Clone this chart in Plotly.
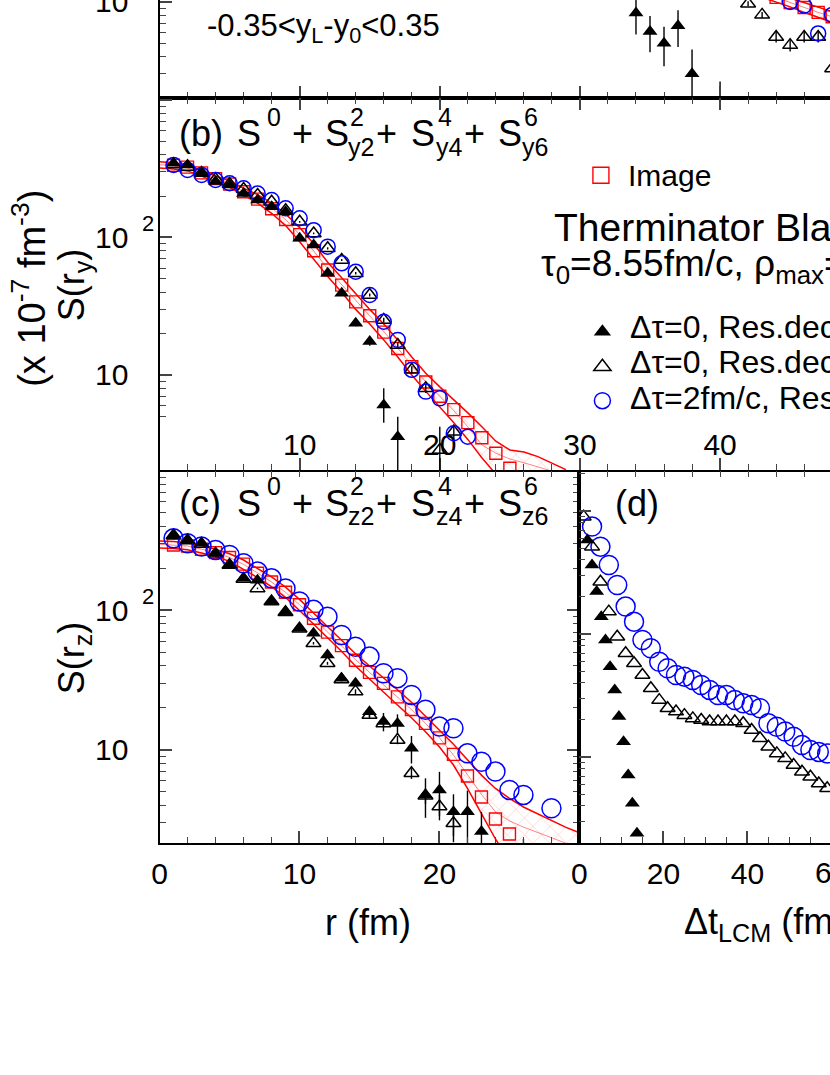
import math
import plotly.graph_objects as go

W, H = 830, 1075
def X(px): return px / W
def Y(py): return 1 - py / H

FONT = "Liberation Sans, Arial, Helvetica, sans-serif"
RED, BLUE, BLACK = "#ff0000", "#0000ff", "#000000"

# ---------------- data ----------------
# panel (a): upper panel, only its lower strip is visible
a_r_filled = [34, 35, 36, 37, 38, 39, 40]
a_filled = [8.3, 6.1, 5.0, 6.7, 3.0, 1.0, 1.2]
a_filled_ep = [2.5, 1.8, 1.6, 2.0, 1.5, 1.07, 1.44]
a_filled_em = [2.5, 1.8, 1.6, 2.0, 1.5, 0.5, 0.5]
a_r_open = [42, 43, 44, 45, 46, 47, 48]
a_open = [9.7, 8.05, 5.56, 4.85, 5.56, 5.56, 3.28]
a_open_err = [0.4, 0.4, 0.5, 0.5, 0.5, 0.5, 0.6]
a_r_circ = [45, 46, 47, 48]
a_circ = [10.0, 9.4, 5.9, 8.05]
a_r_img = [44, 45, 46, 47, 48]
a_img = [10.8, 9.9, 9.1, 8.4, 7.8]
a_band_r = [43, 44, 45, 46, 47, 48]
a_band_up = [12.4, 11.5, 10.6, 9.8, 9.1, 8.5]
a_band_lo = [10.8, 10.0, 9.2, 8.4, 7.7, 7.1]
a_band_mid = [11.6, 10.8, 9.9, 9.1, 8.4, 7.8]

# panel (b): S(r_y)
b_r_circ = list(range(1, 23))
b_circ = [337, 310, 285, 262, 248, 228, 209, 187, 163, 138, 113, 85.8, 64.9, 56.4,
          38.2, 24.4, 18.0, 10.9, 7.57, 6.76, 3.77, 3.56]
b_r_open = list(range(1, 22))
b_open = [340, 325, 295, 265, 245, 225, 204, 182, 158, 130, 107, 83.4, 68.6, 54.9,
          38.2, 25.1, 16.5, 10.9, 8.0, 2.85, 3.87]
b_open_err = [3, 3, 3, 3, 3, 3, 2, 2, 2, 2, 1.5, 1.5, 1.2, 1.2, 1.0, 1.0, 0.8, 0.7, 0.6, 1.35, 0.5]
b_r_filled = list(range(1, 18))
b_filled = [346, 337, 293, 255, 241, 209, 187, 167, 154, 98.6, 88.2, 54.9, 39.3, 23.8,
            17.5, 6.05, 3.56]
b_filled_ep = [4, 4, 4, 3, 3, 3, 3, 3, 3, 2, 2, 1.5, 1.5, 1.2, 1.2, 1.95, 1.4]
b_filled_em = [4, 4, 4, 3, 3, 3, 3, 3, 3, 2, 2, 1.5, 1.5, 1.2, 1.2, 1.55, 1.6]
b_r_img = list(range(1, 26))
b_img = [335, 325, 295, 268, 245, 215, 190, 162, 135, 105, 80, 58, 45, 34, 27, 20.5,
         15.6, 11.5, 8.9, 7.0, 5.6, 4.5, 3.5, 2.7, 2.1]
b_band_r = list(range(0, 30))
b_band_up = [355, 350, 335, 305, 280, 258, 228, 205, 178, 148, 118, 90, 66, 51, 39, 30,
             23.5, 18, 13.5, 10.3, 8.2, 6.6, 5.3, 4.2, 3.3, 2.85, 2.75, 2.55, 2.3, 2.05]
b_band_lo = [320, 315, 305, 280, 255, 232, 202, 178, 150, 122, 93, 70, 52, 40, 30, 23.5,
             18, 13.5, 10, 7.6, 5.9, 4.5, 3.4, 2.5, 1.9, 1.5, 1.2, 1.0, 0.9, 0.8]
b_band_mid = [338, 333, 320, 292, 268, 245, 215, 191, 164, 135, 105, 80, 59, 45.5, 34.5,
              26.8, 20.7, 15.7, 11.7, 8.9, 7.0, 5.5, 4.2, 3.1, 2.7, 2.45, 2.3, 2.15, 2.0, 1.85]

# panel (c): S(r_z)
c_r_circ = list(range(1, 27)) + [28]
c_circ = [329, 303, 287, 271, 250, 218, 190, 170, 144, 116, 101, 90.3, 66.7, 55.0, 46.7,
          35.5, 32.7, 24.8, 19.4, 14.7, 14.3, 9.46, 8.24, 7.0, 5.17, 4.76, 3.82]
c_r_open = list(range(1, 22))
c_open = [345, 318, 300, 255, 212, 168, 144, 116, 97, 74, 58.2, 41.8, 32, 26.2, 17.8,
          15.5, 11.8, 6.8, 4.7, 3.93, 2.98]
c_open_err = [3, 3, 3, 3, 2, 2, 2, 2, 1.5, 1.2, 1.2, 1, 1, 1, 1, 1, 0.8, 0.6, 0.6, 0.8, 0.8]
c_r_filled = list(range(1, 24)) + [26]
c_filled = [348, 320, 303, 257, 212, 170, 165, 116, 98, 74.5, 68.6, 48, 32.7, 30.1, 18.8,
            16.0, 15.5, 10.3, 4.76, 5.17, 3.61, 3.61, 2.6, 1.4]
c_filled_ep = [3, 3, 3, 3, 2, 2, 2, 2, 1.5, 1.2, 1.2, 1, 1, 1, 1.5, 2.4, 2.5, 2.3, 1.5,
               1.8, 1.2, 1.5, 1.0, 0.9]
c_filled_em = [3, 3, 3, 3, 2, 2, 2, 2, 1.5, 1.2, 1.2, 1, 1, 1, 1.5, 2.4, 2.5, 2.3, 1.5,
               1.8, 1.2, 1.5, 1.0, 0.5]
c_r_img = list(range(1, 26))
c_img = [295, 290, 275, 260, 240, 215, 185, 160, 135, 110, 88, 70, 56, 44, 36, 30, 24,
         19.5, 15.5, 12.2, 9.3, 6.5, 4.6, 3.2, 2.5]
c_band_r = list(range(0, 31))
c_band_up = [315, 312, 305, 292, 275, 255, 230, 200, 174, 147, 120, 96, 77, 61, 49, 40,
             33, 27, 22, 17.5, 14, 11, 8.5, 6.6, 5.3, 4.5, 3.9, 3.5, 3.1, 2.8, 2.55]
c_band_lo = [280, 278, 272, 258, 245, 225, 198, 172, 148, 124, 100, 80, 64, 51, 40, 32,
             26, 21, 17, 13.5, 10.5, 7.8, 5.3, 3.5, 2.3, 1.6, 1.2, 0.95, 0.8, 0.7, 0.6]
c_band_mid = [298, 295, 290, 275, 260, 240, 214, 186, 160, 135, 110, 88, 70, 56, 44.5, 36,
              29.5, 24, 19.5, 15.5, 12.2, 9.2, 6.6, 4.8, 3.6, 3.1, 2.8, 2.55, 2.35, 2.15, 1.95]

# panel (d): distribution in Delta t_LCM
d_t_open = list(range(1, 60, 2))
d_open = [8.99, 5.13, 2.66, 1.52, 0.95, 0.697, 0.578, 0.464, 0.362, 0.29, 0.249, 0.234,
          0.219, 0.206, 0.2, 0.194, 0.194, 0.194, 0.194, 0.188, 0.166, 0.142, 0.121,
          0.107, 0.0975, 0.086, 0.076, 0.069, 0.061, 0.0557]
d_t_circ = list(range(3, 60, 2))
d_circ = [7.46, 5.13, 3.64, 2.5, 1.67, 1.26, 0.894, 0.765, 0.595, 0.526, 0.464, 0.45,
          0.423, 0.385, 0.351, 0.319, 0.319, 0.29, 0.273, 0.265, 0.249, 0.188, 0.176,
          0.161, 0.146, 0.125, 0.114, 0.110, 0.107]
d_t_filled = [1.9, 3.0, 4.1, 5.2, 6.2, 7.3, 8.4, 9.4, 10.5, 11.6, 12.6, 13.7]
d_filled = [5.81, 3.64, 2.21, 1.38, 0.894, 0.542, 0.351, 0.213, 0.133, 0.0714, 0.042, 0.024]

minor_vals = [m * 10 ** e for e in range(-3, 4) for m in range(2, 10)]

# ---------------- figure ----------------
fig = go.Figure()

def band(xa, ya, r, lo, up, mid):
    fig.add_trace(go.Scatter(x=r, y=lo, mode="lines", line=dict(color=RED, width=1.5),
                             xaxis=xa, yaxis=ya, showlegend=False, hoverinfo="skip"))
    fig.add_trace(go.Scatter(x=r, y=up, mode="lines", line=dict(color=RED, width=1.5),
                             fill="tonexty", fillcolor="rgba(0,0,0,0)",
                             fillpattern=dict(shape="x", fgcolor="rgba(255,0,0,0.7)",
                                              bgcolor="rgba(0,0,0,0)", size=12, solidity=0.07),
                             xaxis=xa, yaxis=ya, showlegend=False, hoverinfo="skip"))
    fig.add_trace(go.Scatter(x=r, y=mid, mode="lines",
                             line=dict(color="rgba(255,0,0,0.6)", width=0.8),
                             xaxis=xa, yaxis=ya, showlegend=False, hoverinfo="skip"))

def errs(ep, em):
    if ep is None:
        return None
    return dict(type="data", array=ep, arrayminus=em if em is not None else ep,
                color=BLACK, thickness=1.4, width=0)

def squares(xa, ya, r, v):
    fig.add_trace(go.Scatter(x=r, y=v, mode="markers", showlegend=False,
                             marker=dict(symbol="square-open", size=12, color=RED,
                                         line=dict(color=RED, width=1.4)),
                             xaxis=xa, yaxis=ya))

def opens(xa, ya, r, v, ep=None, em=None, size=13):
    fig.add_trace(go.Scatter(x=r, y=v, mode="markers", showlegend=False,
                             marker=dict(symbol="triangle-up-open", size=size, color=BLACK,
                                         line=dict(color=BLACK, width=1.5)),
                             error_y=errs(ep, em), xaxis=xa, yaxis=ya))

def filled(xa, ya, r, v, ep=None, em=None, size=13):
    fig.add_trace(go.Scatter(x=r, y=v, mode="markers", showlegend=False,
                             marker=dict(symbol="triangle-up", size=size, color=BLACK),
                             error_y=errs(ep, em), xaxis=xa, yaxis=ya))

def circles(xa, ya, r, v, size=15):
    fig.add_trace(go.Scatter(x=r, y=v, mode="markers", showlegend=False,
                             marker=dict(symbol="circle-open", size=size, color=BLUE,
                                         line=dict(color=BLUE, width=1.5)),
                             xaxis=xa, yaxis=ya))

# panel a
band("x", "y", a_band_r, a_band_lo, a_band_up, a_band_mid)
squares("x", "y", a_r_img, a_img)
opens("x", "y", a_r_open, a_open, a_open_err)
circles("x", "y", a_r_circ, a_circ, size=15)
filled("x", "y", a_r_filled, a_filled, a_filled_ep, a_filled_em)
# panel b
band("x2", "y2", b_band_r, b_band_lo, b_band_up, b_band_mid)
squares("x2", "y2", b_r_img, b_img)
opens("x2", "y2", b_r_open, b_open, b_open_err)
circles("x2", "y2", b_r_circ, b_circ, size=15)
filled("x2", "y2", b_r_filled, b_filled, b_filled_ep, b_filled_em)
# panel c
band("x3", "y3", c_band_r, c_band_lo, c_band_up, c_band_mid)
squares("x3", "y3", c_r_img, c_img)
opens("x3", "y3", c_r_open, c_open, c_open_err)
circles("x3", "y3", c_r_circ, c_circ, size=19)
filled("x3", "y3", c_r_filled, c_filled, c_filled_ep, c_filled_em)
# panel d
opens("x4", "y4", d_t_open, d_open, size=13)
circles("x4", "y4", d_t_circ, d_circ, size=19)
filled("x4", "y4", d_t_filled, d_filled, size=13)
# helper axis carrying the downward ticks under panel (b)
fig.add_trace(go.Scatter(x=[None], y=[None], xaxis="x5", yaxis="y2", showlegend=False))

# legend swatches (one legend per entry, so each can be placed like the original)
legend_items = [
    ("legend", dict(symbol="square-open", size=16, color=RED, line=dict(color=RED, width=1.4))),
    ("legend2", dict(symbol="triangle-up", size=15, color=BLACK)),
    ("legend3", dict(symbol="triangle-up-open", size=15, color=BLACK,
                     line=dict(color=BLACK, width=1.5))),
    ("legend4", dict(symbol="circle-open", size=17, color=BLUE, line=dict(color=BLUE, width=1.5))),
]
for lg, mk in legend_items:
    fig.add_trace(go.Scatter(x=[None], y=[None], mode="markers", marker=mk, name=" ",
                             legend=lg, showlegend=True, xaxis="x2", yaxis="y2"))

def log_y(dom, rng, tickvals, mirror=False):
    return dict(type="log", domain=dom, range=rng, tickvals=tickvals, ticks="inside",
                ticklen=12, tickwidth=1.5, showticklabels=False, showline=True,
                linewidth=2, linecolor=BLACK, mirror=mirror, showgrid=False,
                zeroline=False,
                minor=dict(tickvals=minor_vals, ticks="inside", ticklen=6, tickwidth=1.2,
                           showgrid=False))

def lin_x(dom, rng, dtick, mdtick, anchor, labels=False, mirror=False, **kw):
    d = dict(domain=dom, range=rng, anchor=anchor, dtick=dtick, tick0=0, ticks="inside",
             ticklen=12, tickwidth=1.5, showticklabels=labels, showline=True, linewidth=2,
             linecolor=BLACK, mirror=mirror, showgrid=False, zeroline=False,
             tickfont=dict(size=30, family=FONT, color=BLACK),
             minor=dict(dtick=mdtick, ticks="inside", ticklen=6, tickwidth=1.2,
                        showgrid=False))
    d.update(kw)
    return d

def leg(xc, yc):
    return dict(x=X(xc - 13), y=Y(yc - 16), xanchor="left", yanchor="top", borderwidth=0,
                bgcolor="rgba(0,0,0,0)", font=dict(size=28), itemwidth=30)

RB = (830 - 153) / 14.15
fig.update_layout(
    width=W, height=H, margin=dict(l=0, r=0, t=0, b=0),
    paper_bgcolor="white", plot_bgcolor="white",
    font=dict(family=FONT, color=BLACK),
    xaxis=lin_x([X(153), 1], [0, RB], 10, 2, "y"),
    yaxis=dict(log_y([Y(98), 1], [math.log10(2), 1.014], [10, 100]), anchor="x"),
    xaxis2=lin_x([X(153), 1], [0, RB], None, 2, "y2", labels=True, mirror="ticks",
                 tickvals=[10, 20, 30, 40], ticklabelposition="inside", layer="below traces"),
    yaxis2=dict(log_y([Y(470), Y(98)], [0.309, 3.0145], [10, 100, 1000]), anchor="x2"),
    xaxis3=lin_x([X(153), X(577)], [0, 30], None, 2, "y3", labels=True,
                 tickvals=[0, 10, 20], ticklabelstandoff=3),
    yaxis3=dict(log_y([Y(843), Y(470)], [0.333, 3.007], [10, 100, 1000], mirror="ticks"),
                anchor="x3"),
    xaxis4=lin_x([X(577), 1], [0, (830 - 577) / 4.24], 20, 5, "y4", labels=True,
                 ticklabelstandoff=3),
    yaxis4=dict(log_y([Y(843), Y(470)], [-1.699, 1.333], [0.1, 1, 10]), anchor="x4"),
    xaxis5=dict(overlaying="x2", anchor="y2", side="bottom", range=[0, RB], dtick=2,
                tick0=0, ticks="outside", ticklen=6, tickwidth=1.2, showline=False,
                showticklabels=False, showgrid=False, zeroline=False),
    legend=leg(591.5, 166.5),
    legend2=leg(593, 323),
    legend3=leg(593, 358),
    legend4=leg(593, 392),
)

ann = []
def txt(text, x, y, size, xanchor="left", yanchor="middle", xref="paper", yref="paper",
        angle=0, color=BLACK, yshift=0):
    ann.append(dict(text=text, x=x, y=y, xref=xref, yref=yref, xanchor=xanchor,
                    yanchor=yanchor, showarrow=False, textangle=angle, yshift=yshift,
                    font=dict(size=size, family=FONT, color=color)))

# panel labels with stacked super/subscripts
def panel_label(letter, sub, yc):
    M, S = 36, 25
    txt("(%s)" % letter, X(171), Y(yc), M)
    txt("S", X(229), Y(yc), M)
    txt("0", X(260), Y(yc - 17), S)
    for xs, xsup, xsub, n in [(285, None, None, None), (318, 343, 341, "2"),
                              (370, None, None, None), (405, 432, 430, "4"),
                              (458, None, None, None), (493, 519, 517, "6")]:
        if n is None:
            txt("+", X(xs), Y(yc), M)
        else:
            txt("S", X(xs), Y(yc), M)
            txt(n, X(xsup), Y(yc - 17), S)
            txt(sub + n, X(xsub), Y(yc + 13), S)

panel_label("b", "y", 134)
panel_label("c", "z", 503)
txt("(d)", X(611), Y(503), 36)

txt("-0.35<y<sub>L</sub>-y<sub>0</sub><0.35", X(199), Y(28), 31)

# y tick labels
for yref, vals in [("y", [1]), ("y2", [1, 2]), ("y3", [1, 2])]:
    for v in vals:
        txt("10", X(123), v, 30, xanchor="right", yref=yref)
        if v == 2:
            txt("2", X(133), v, 22, yref=yref, yshift=14)
txt("60", X(577 + 60 * 4.24), Y(872), 30, xanchor="center")

# axis titles
txt("(x 10<sup>-7</sup> fm<sup>-3</sup>)", X(21), Y(288), 38, xanchor="center", angle=-90)
txt("S(r<sub>y</sub>)", X(67), Y(285), 36, xanchor="center", angle=-90)
txt("S(r<sub>z</sub>)", X(67), Y(658), 36, xanchor="center", angle=-90)
txt("r (fm)", X(363), Y(922), 36, xanchor="center")
txt("Δt<sub>LCM</sub> (fm/c)", X(681), Y(924), 36)

# legend text
txt("Image", X(624), Y(175), 30)
txt("Therminator Blastwave", X(549), Y(228), 39)
txt("τ<sub>0</sub>=8.55fm/c, ρ<sub>max</sub>=8.92fm", X(536), Y(266), 37)
txt("Δτ=0, Res.decays off", X(626), Y(327), 32)
txt("Δτ=0, Res.decays on", X(626), Y(362), 32)
txt("Δτ=2fm/c, Res.decays on", X(626), Y(398), 32)

fig.update_layout(annotations=ann)
fig.write_html("out.html", config={"displayModeBar": False},
               post_script="document.body.style.margin='0px';"
                           "document.body.style.overflow='hidden';")
